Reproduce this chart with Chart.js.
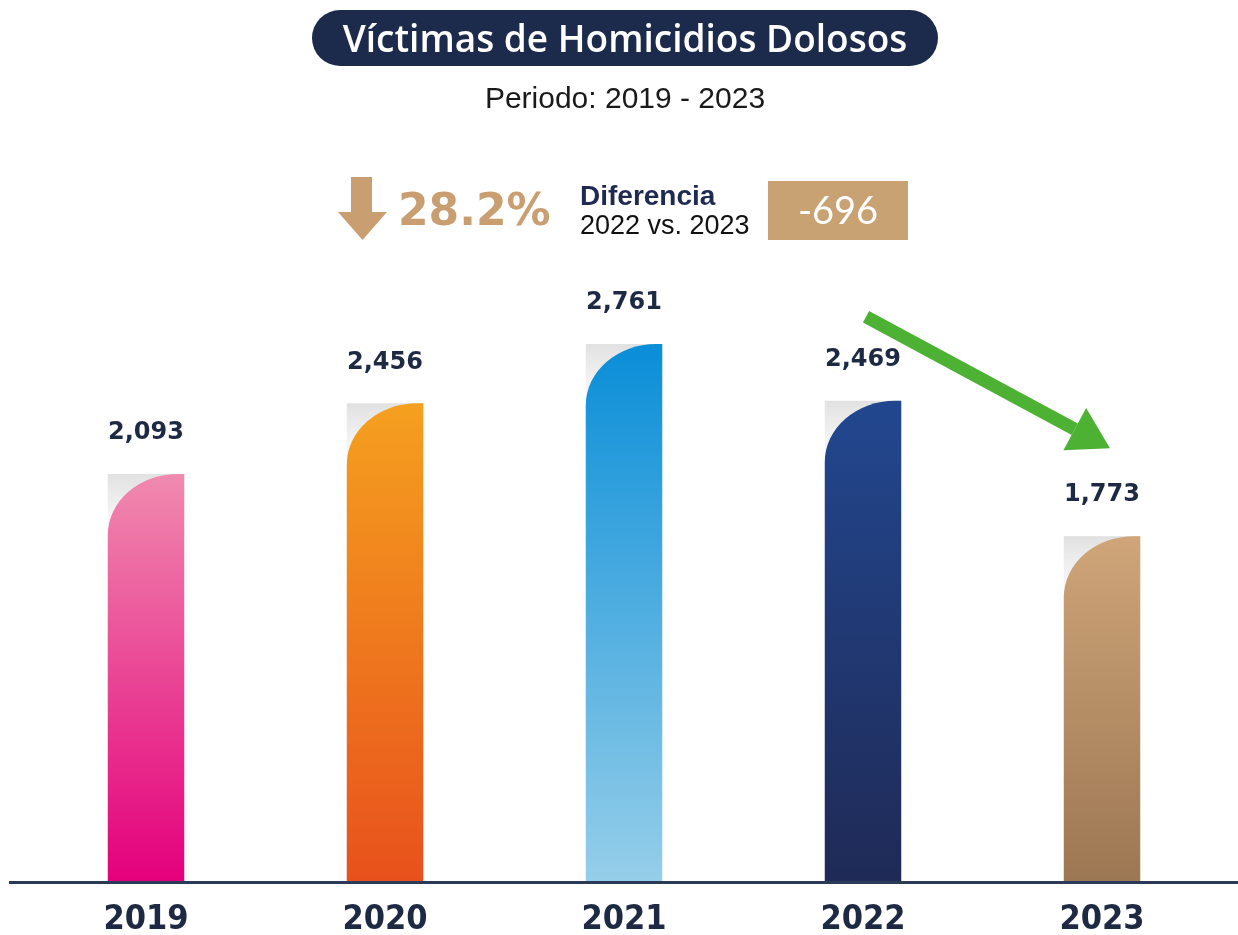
<!DOCTYPE html>
<html>
<head>
<meta charset="utf-8">
<script src="https://cdn.jsdelivr.net/npm/chart.js@4/dist/chart.umd.min.js"></script>
<style>
  html, body { margin: 0; padding: 0; background: #fff; }
  #wrap { position: relative; width: 1238px; height: 935px; overflow: hidden; }
  #chart { position: absolute; left: 0; top: 0; }
  .pill { position: absolute; left: 312px; top: 10px; width: 626px; height: 56px;
    border-radius: 28px; background: #1c2b4b; color: #fff; text-align: center;
    font: 600 37px 'Open Sans', sans-serif; line-height: 56px; }
  .sub { position: absolute; left: 0; width: 1250px; top: 81px; text-align: center;
    font: 30px 'Liberation Sans', Arial, sans-serif; color: #1a1a1a; }
  .pct { position: absolute; left: 398px; top: 184px; color: #c99f72;
    font: bold 44px 'DejaVu Sans', sans-serif; }
  .dif { position: absolute; left: 580px; top: 180px; color: #1f2a52;
    font: bold 28px 'Liberation Sans', Arial, sans-serif; }
  .vs { position: absolute; left: 580px; top: 210px; color: #111;
    font: 27px 'Liberation Sans', Arial, sans-serif; }
  .box { position: absolute; left: 768px; top: 181px; width: 140px; height: 59px;
    background: #c9a274; color: #fff; text-align: center;
    font: 38px 'Lato', sans-serif; line-height: 57px; }
  #down { position: absolute; left: 336px; top: 176px; }
</style>
</head>
<body>
<div id="wrap">
  <canvas id="chart" width="1238" height="935"></canvas>
  <div class="pill">Víctimas de Homicidios Dolosos</div>
  <div class="sub">Periodo: 2019 - 2023</div>
  <svg id="down" width="54" height="66">
    <rect x="15" y="1" width="21" height="38" fill="#c99f72"/>
    <polygon points="2,36 51,36 26.5,64" fill="#c99f72"/>
  </svg>
  <div class="pct">28.2%</div>
  <div class="dif">Diferencia</div>
  <div class="vs">2022 vs. 2023</div>
  <div class="box">-696</div>
</div>
<script>
'use strict';
const years = ['2019', '2020', '2021', '2022', '2023'];
const victims = [2093, 2456, 2761, 2469, 1773];
const topColors = ['#f08aae', '#f5a01f', '#0a8ed8', '#22478f', '#cfa579'];
const bottomColors = ['#e4007c', '#e8511c', '#95cee9', '#1f2a56', '#9c7753'];

const INK = '#1e2a44';

// bars with a big rounded top-left corner, a grey backing and value labels
const fancyBars = {
  id: 'fancyBars',
  afterDatasetsDraw(chart) {
    const ctx = chart.ctx;
    const meta = chart.getDatasetMeta(0);
    meta.data.forEach((bar, i) => {
      const w = bar.width, left = bar.x - w / 2, right = bar.x + w / 2;
      const top = bar.y, base = bar.base;
      const rx = w * 0.92, ry = w * 0.8;
      ctx.save();
      const sg = ctx.createLinearGradient(0, top, 0, top + ry * 1.3);
      sg.addColorStop(0, '#e1e1e1');
      sg.addColorStop(1, 'rgba(238,238,238,0)');
      ctx.fillStyle = sg;
      ctx.fillRect(left, top, w, ry * 1.3);

      const g = ctx.createLinearGradient(0, top, 0, base);
      g.addColorStop(0, topColors[i]);
      g.addColorStop(1, bottomColors[i]);
      ctx.fillStyle = g;
      ctx.beginPath();
      ctx.moveTo(left, base);
      ctx.lineTo(left, top + ry);
      ctx.ellipse(left + rx, top + ry, rx, ry, 0, Math.PI, 1.5 * Math.PI);
      ctx.lineTo(right, top);
      ctx.lineTo(right, base);
      ctx.closePath();
      ctx.fill();

      ctx.fillStyle = INK;
      ctx.font = "bold 24px 'DejaVu Sans', sans-serif";
      ctx.textAlign = 'center';
      ctx.textBaseline = 'middle';
      ctx.fillText(victims[i].toLocaleString('en-US'), bar.x, top - 41);
      ctx.restore();
    });

    // baseline across the page
    const y0 = chart.scales.y.getPixelForValue(0);
    ctx.save();
    ctx.strokeStyle = '#2b3a57';
    ctx.lineWidth = 3;
    ctx.beginPath();
    ctx.moveTo(9, y0 + 1.5);
    ctx.lineTo(chart.width, y0 + 1.5);
    ctx.stroke();

    // green trend arrow from 2022 to 2023
    const a = meta.data[3], b = meta.data[4];
    const sx = a.x + 3, sy = a.y - 84, ex = b.x + 8, ey = b.y - 88;
    const ang = Math.atan2(ey - sy, ex - sx);
    const hl = 40, hw = 24;
    const bx = ex - hl * Math.cos(ang), by = ey - hl * Math.sin(ang);
    ctx.strokeStyle = '#4db134';
    ctx.fillStyle = '#4db134';
    ctx.lineWidth = 13;
    ctx.beginPath();
    ctx.moveTo(sx, sy);
    ctx.lineTo(bx, by);
    ctx.stroke();
    ctx.beginPath();
    ctx.moveTo(ex, ey);
    ctx.lineTo(bx + hw * Math.sin(ang), by - hw * Math.cos(ang));
    ctx.lineTo(bx - hw * Math.sin(ang), by + hw * Math.cos(ang));
    ctx.closePath();
    ctx.fill();
    ctx.restore();
  }
};

new Chart(document.getElementById('chart'), {
  type: 'bar',
  data: {
    labels: years,
    datasets: [{ data: victims, backgroundColor: 'transparent',
      categoryPercentage: 1, barPercentage: 0.32 }]
  },
  options: {
    responsive: false, animation: false,
    layout: { padding: { left: 26.5, right: 16.5, top: 297.5, bottom: 0 } },
    plugins: { legend: { display: false }, tooltip: { enabled: false } },
    scales: {
      x: {
        grid: { display: false }, border: { display: false },
        afterFit(scale) { scale.height = 54; },
        ticks: { color: INK, padding: 14,
          font: { family: "'DejaVu Sans Condensed', 'DejaVu Sans', sans-serif",
            size: 34, weight: 'bold', lineHeight: 1 } }
      },
      y: { display: false, min: 0, max: 3000 }
    }
  },
  plugins: [fancyBars]
});
</script>
</body>
</html>
